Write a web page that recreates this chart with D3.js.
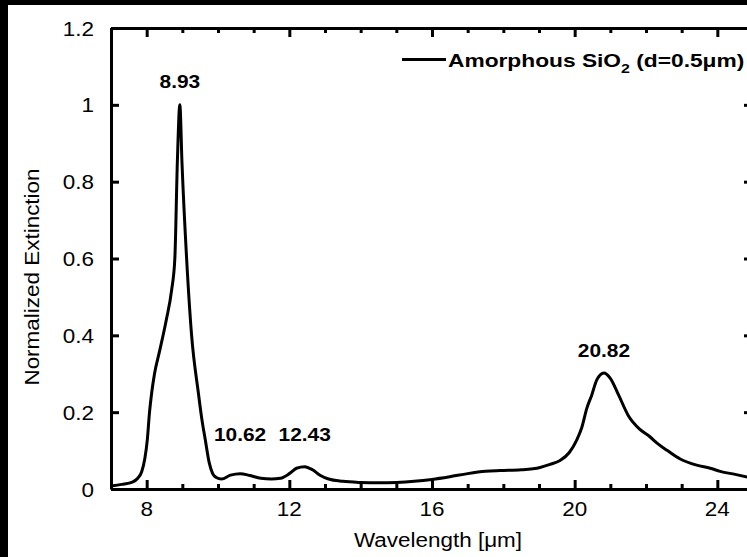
<!DOCTYPE html>
<html>
<head>
<meta charset="utf-8">
<script src="https://cdn.jsdelivr.net/npm/d3@7/dist/d3.min.js"></script>
<style>
  html, body { margin: 0; padding: 0; background: #fff; }
  svg { display: block; }
  text { font-family: "Liberation Sans", Arial, Helvetica, sans-serif; fill: #000; }
</style>
</head>
<body>
<svg id="chart" width="747" height="557"></svg>
<script>
// Extinction spectrum of an amorphous SiO2 film (d = 0.5 µm)
const wavelength = [
  7.0, 7.3, 7.6, 7.75, 7.86, 7.95, 8.02, 8.08, 8.14, 8.22, 8.37, 8.55, 8.70, 8.79, 8.86, 8.93,
  8.99, 9.12, 9.26, 9.45, 9.55, 9.64, 9.75, 9.85, 9.95, 10.10, 10.35, 10.62, 10.90, 11.20,
  11.50, 11.75, 12.0, 12.2, 12.43, 12.65, 12.86, 13.1, 13.5, 14.0, 14.5, 15.0, 15.5, 16.0,
  16.5, 17.0, 17.5, 17.91, 18.5, 19.03, 19.31, 19.59, 19.85, 20.06, 20.20, 20.34, 20.48,
  20.62, 20.82, 21.0, 21.23, 21.51, 21.83, 22.11, 22.30, 22.6, 22.96, 23.42, 23.8, 24.08,
  24.5, 25.0
];
const extinction = [
  0.008, 0.012, 0.018, 0.028, 0.045, 0.080, 0.130, 0.200, 0.250, 0.300, 0.362, 0.440, 0.518, 0.600, 0.850, 1.000,
  0.850, 0.600, 0.400, 0.250, 0.180, 0.130, 0.070, 0.040, 0.030, 0.026, 0.036, 0.040, 0.035, 0.028,
  0.026, 0.028, 0.040, 0.054, 0.058, 0.050, 0.036, 0.026, 0.020, 0.017, 0.016, 0.017, 0.020, 0.025,
  0.032, 0.040, 0.046, 0.048, 0.050, 0.056, 0.064, 0.074, 0.095, 0.128, 0.160, 0.210, 0.245,
  0.284, 0.302, 0.288, 0.245, 0.190, 0.155, 0.136, 0.120, 0.100, 0.078, 0.062, 0.054, 0.046,
  0.038, 0.028
];

// Labelled peak positions (µm) and the level of each label's baseline
const peakWavelengths = [8.93, 10.62, 12.43, 20.82];
const peakLabels = ["8.93", "10.62", "12.43", "20.82"];
const peakLabelLevels = [1.044, 0.125, 0.125, 0.344];

const xMajorTicks = [8, 12, 16, 20, 24];
const xTickLabels = ["8", "12", "16", "20", "24"];
const xMinorTicks = [7, 9, 10, 11, 13, 14, 15, 17, 18, 19, 21, 22, 23, 25];
const yTicks = [0, 0.2, 0.4, 0.6, 0.8, 1.0, 1.2];
const yTickLabels = ["0", "0.2", "0.4", "0.6", "0.8", "1", "1.2"];

const seriesName = "Amorphous SiO";
const seriesSub = "2";
const seriesSuffix = " (d=0.5\u03bcm)";
const xTitle = "Wavelength [\u03bcm]";
const yTitle = "Normalized Extinction";

const W = 747, H = 557;
const plot = { left: 111, right: 753, top: 28, bottom: 489 };
const regular = { size: 21, weight: "normal", sx: 1.07 };
const bold = { size: 18, weight: "bold", sx: 1.16 };

const svg = d3.select("#chart");
svg.append("rect").attr("width", W).attr("height", H).attr("fill", "#fff");

const x = d3.scaleLinear().domain([7, 25]).range([plot.left, plot.right]);
const y = d3.scaleLinear().domain([0, 1.2]).range([plot.bottom, plot.top]);

// text helper: anchor point (optionally rotated), glyphs widened along the baseline
function label(g, px, py, str, style, anchor = "middle", rot = 0) {
  return g.append("g")
    .attr("transform", `translate(${px},${py}) rotate(${rot}) scale(${style.sx},1)`)
    .append("text")
    .attr("text-anchor", anchor)
    .attr("font-size", style.size)
    .attr("font-weight", style.weight)
    .text(str);
}

const axes = svg.append("g").attr("class", "axes");

function styleAxis(sel) {
  sel.selectAll(".domain").attr("stroke", "#000").attr("stroke-width", 3);
  sel.selectAll(".tick line").attr("stroke", "#000").attr("stroke-width", 3);
  sel.selectAll(".tick text").remove();
}

// bottom & top: major + minor ticks pointing inward
axes.append("g").attr("transform", `translate(0,${plot.bottom})`)
  .call(d3.axisBottom(x).tickValues(xMajorTicks).tickSizeInner(-9).tickSizeOuter(0).tickFormat(""))
  .call(styleAxis);
axes.append("g").attr("transform", `translate(0,${plot.bottom})`)
  .call(d3.axisBottom(x).tickValues(xMinorTicks).tickSizeInner(-5).tickSizeOuter(0).tickFormat(""))
  .call(styleAxis);
axes.append("g").attr("transform", `translate(0,${plot.top})`)
  .call(d3.axisTop(x).tickValues(xMajorTicks).tickSizeInner(-9).tickSizeOuter(0).tickFormat(""))
  .call(styleAxis);
axes.append("g").attr("transform", `translate(0,${plot.top})`)
  .call(d3.axisTop(x).tickValues(xMinorTicks).tickSizeInner(-5).tickSizeOuter(0).tickFormat(""))
  .call(styleAxis);

// left & right
axes.append("g").attr("transform", `translate(${plot.left},0)`)
  .call(d3.axisLeft(y).tickValues(yTicks).tickSizeInner(-8).tickSizeOuter(0).tickFormat(""))
  .call(styleAxis);
axes.append("g").attr("transform", `translate(${plot.right},0)`)
  .call(d3.axisRight(y).tickValues(yTicks).tickSizeInner(-9).tickSizeOuter(0).tickFormat(""))
  .call(styleAxis);

// tick labels
const labels = svg.append("g");
xMajorTicks.forEach((v, i) => label(labels, x(v), plot.bottom + 27, xTickLabels[i], regular));
yTicks.forEach((v, i) => label(labels, plot.left - 17, y(v) + 7.5, yTickLabels[i], regular, "end"));

// axis titles
label(labels, 438, 547, xTitle, regular);
label(labels, 39, 277, yTitle, regular, "middle", -90);

// spectrum
const line = d3.line()
  .x((d, i) => x(wavelength[i]))
  .y(d => y(d))
  .curve(d3.curveMonotoneX);
svg.append("path")
  .datum(extinction)
  .attr("fill", "none")
  .attr("stroke", "#000")
  .attr("stroke-width", 3)
  .attr("stroke-linejoin", "round")
  .attr("d", line);

// peak annotations
peakWavelengths.forEach((w, i) =>
  label(labels, x(w), y(peakLabelLevels[i]), peakLabels[i], bold));

// legend
const leg = svg.append("g");
leg.append("line").attr("x1", 402).attr("x2", 446).attr("y1", 59.5).attr("y2", 59.5)
  .attr("stroke", "#000").attr("stroke-width", 3);
const legText = leg.append("g").attr("transform", "translate(448,67) scale(1.23,1)")
  .append("text").attr("font-size", 18.5).attr("font-weight", "bold");
legText.append("tspan").text(seriesName);
legText.append("tspan").attr("font-size", 13).attr("dy", 6).text(seriesSub);
legText.append("tspan").attr("dy", -6).text(seriesSuffix);

// frame strips along the top and left edges
svg.append("rect").attr("x", 0).attr("y", 0).attr("width", W).attr("height", 5).attr("fill", "#000");
svg.append("rect").attr("x", 0).attr("y", 0).attr("width", 8).attr("height", H).attr("fill", "#000");
</script>
</body>
</html>
